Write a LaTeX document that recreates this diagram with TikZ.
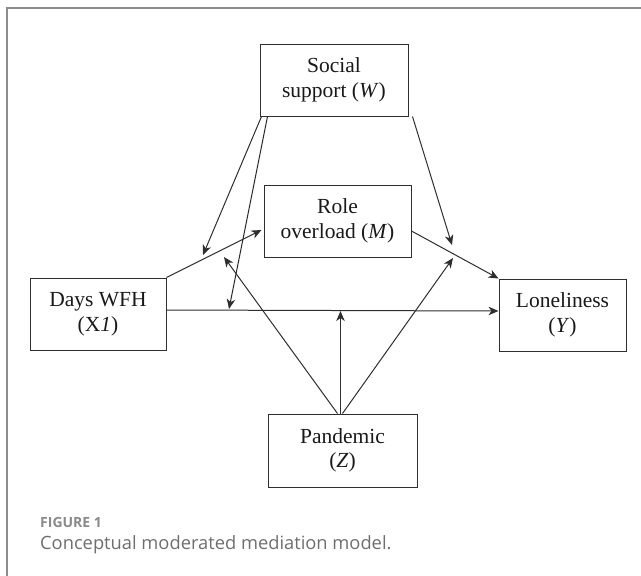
\documentclass[tikz,border=0pt]{standalone}
\usepackage{fontspec}
\setmainfont{Liberation Serif}
\newfontfamily\capfont{Open Sans}
\usetikzlibrary{arrows.meta,calc}
\definecolor{frame}{HTML}{8C8C8C}
\definecolor{ink}{HTML}{2E2E2E}
\definecolor{capgray}{HTML}{6E6E6E}
\definecolor{figgray}{HTML}{8A8A8A}
\tikzset{
  varbox/.style={draw=ink, line width=1pt, minimum width=#1, minimum height=72pt, inner sep=0pt, align=center, font=\fontsize{21.5}{24.5}\selectfont, text=black!90},
  conn/.style={draw=ink, line width=1pt, -{Stealth[length=10pt,width=8.5pt,inset=3pt]}}
}
\begin{document}
\begin{tikzpicture}[x=1pt,y=-1pt]
\useasboundingbox (0,0) rectangle (641,576);
\draw[frame, line width=1.5pt] (7,580) -- (7,8) -- (645,8);
% nodes
\node[varbox=148pt] (W) at (334,80) {Social\\support (\textit{W})};
\node[varbox=147pt] (M) at (337.5,221) {Role\\overload (\textit{M})};
\node[varbox=136pt] (X) at (98,314) {Days WFH\\(X\textit{1})};
\node[varbox=127pt] (Y) at (562.5,315) {Loneliness\\(\textit{Y})};
\node[varbox=149pt, minimum height=73pt] (Z) at (342.5,450.5) {Pandemic\\(\textit{Z})};
% coordinates
\coordinate (w1) at ($(W.south west)+(2,0)$);
\coordinate (w2) at ($(W.south west)+(8,0)$);
\coordinate (w3) at ($(W.south east)+(4,0)$);
\coordinate (t1) at (203,255);
\coordinate (t2) at (229,309);
\coordinate (t3) at (452,245);
\coordinate (xs) at ($(X.east)+(0,-4)$);
\coordinate (ye) at ($(Y.west)+(0,-4)$);
\coordinate (ms) at ($(M.east)+(0,10)$);
\coordinate (me) at ($(M.west)+(-2,9)$);
\coordinate (z1) at ($(Z.north)+(-5,0)$);
\coordinate (z2) at ($(Z.north)+(-2,0)$);
\coordinate (z3) at ($(Z.north)+(0,0)$);
\coordinate (t7) at (224,257);
\coordinate (t8) at (340.5,311);
\coordinate (t9) at (453,258);
% connectors
\draw[conn] (w1) -- (t1);
\draw[conn] (w2) -- (t2);
\draw[conn] (w3) -- (t3);
\draw[conn] (X.north east) -- (me);
\draw[conn] (ms) -- (Y.north west);
\draw[conn] (xs) -- (ye);
\draw[conn] (z1) -- (t7);
\draw[conn] (z2) -- (t8);
\draw[conn] (z3) -- (t9);
% caption
\node[anchor=base west, inner sep=0pt, font=\capfont\bfseries\fontsize{14}{16}\selectfont, text=figgray] (fig) at (40,527) {FIGURE 1};
\node[anchor=base west, inner sep=0pt, font=\capfont\fontsize{18.3}{20}\selectfont, text=capgray] (cap) at (40,549) {Conceptual moderated mediation model.};
\end{tikzpicture}
\end{document}
